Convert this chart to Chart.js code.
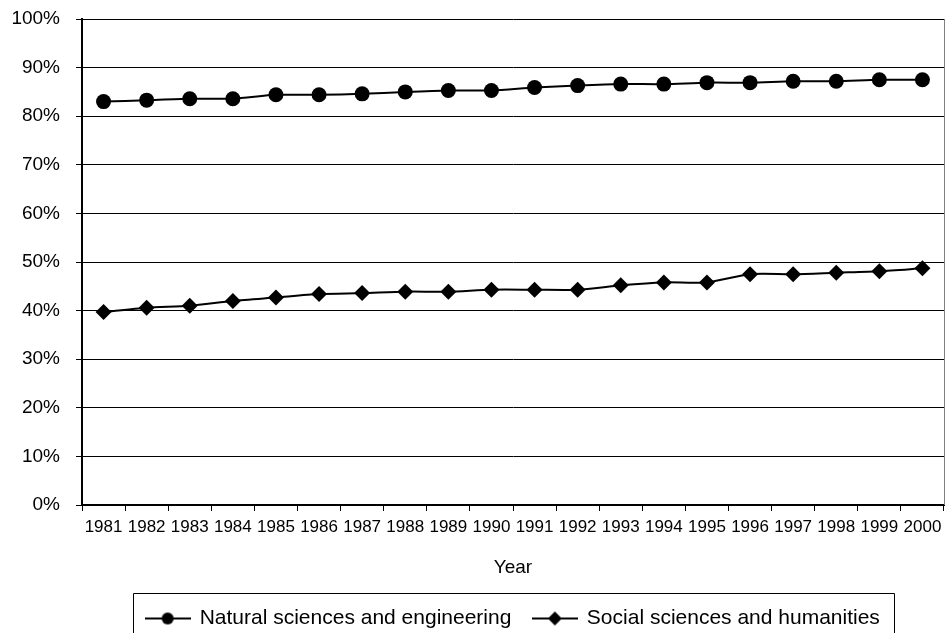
<!DOCTYPE html>
<html>
<head>
<meta charset="utf-8">
<script src="https://cdn.jsdelivr.net/npm/chart.js@4"></script>
<style>
  html, body { margin: 0; padding: 0; background: #fff; overflow: hidden; }
  #wrap { width: 946px; height: 633px; }
  canvas { display: block; }
</style>
</head>
<body>
<div id="wrap"><canvas id="chart" width="946" height="633"></canvas></div>
<script>
const years = ['1981','1982','1983','1984','1985','1986','1987','1988','1989','1990',
               '1991','1992','1993','1994','1995','1996','1997','1998','1999','2000'];
const naturalSci = [83.0, 83.3, 83.6, 83.6, 84.4, 84.4, 84.6, 85.0, 85.3, 85.3,
                    85.9, 86.3, 86.6, 86.6, 86.9, 86.9, 87.2, 87.2, 87.5, 87.5];
const socialSci = [39.7, 40.6, 41.0, 42.0, 42.7, 43.4, 43.6, 43.9, 43.9, 44.3,
                   44.3, 44.3, 45.2, 45.8, 45.8, 47.5, 47.5, 47.8, 48.1, 48.7];
const seriesNames = ['Natural sciences and engineering', 'Social sciences and humanities'];
const yTicks = [0, 10, 20, 30, 40, 50, 60, 70, 80, 90, 100];

const FONT = 'Liberation Sans, Arial, sans-serif';

// small line+marker swatch for the legend
function swatch(shape) {
    const c = document.createElement('canvas');
    c.width = 46; c.height = 16;
    const g = c.getContext('2d');
    g.strokeStyle = '#000';
    g.lineWidth = 2;
    g.beginPath(); g.moveTo(0, 8); g.lineTo(46, 8); g.stroke();
    g.fillStyle = '#000';
    g.beginPath();
    if (shape === 'circle') {
        g.arc(23, 8, 6, 0, Math.PI * 2);
    } else {
        g.moveTo(23, 1); g.lineTo(30, 8); g.lineTo(23, 15); g.lineTo(16, 8); g.closePath();
    }
    g.fill();
    return c;
}
const legendIcons = [swatch('circle'), swatch('diamond')];

const frame = {
    id: 'frame',
    beforeLayout(chart) {
        // legend.update() never calls afterFit, so wrap fit to pin the height
        const lg = chart.legend;
        if (lg && !lg._patched) {
            const orig = lg.fit;
            lg.fit = function () { orig.call(this); this.height = 47; };
            lg._patched = true;
        }
    },
    afterDraw(chart) {
        const ctx = chart.ctx;
        const a = chart.chartArea;
        ctx.save();
        // right border of the plot
        ctx.strokeStyle = '#808080';
        ctx.lineWidth = 1;
        ctx.beginPath();
        ctx.moveTo(a.right + 0.5, a.top);
        ctx.lineTo(a.right + 0.5, a.bottom);
        ctx.stroke();
        // box round the legend (runs off the bottom edge like the original)
        const hb = chart.legend.legendHitBoxes;
        if (hb && hb.length) {
            const first = hb[0], last = hb[hb.length - 1];
            const x0 = Math.round(first.left - 13) + 0.5;
            const x1 = Math.round(last.left + last.width + 14) + 0.5;
            const y0 = Math.round(first.top - 15) + 0.5;
            ctx.strokeStyle = '#000';
            ctx.beginPath();
            ctx.moveTo(x0, 640);
            ctx.lineTo(x0, y0);
            ctx.lineTo(x1, y0);
            ctx.lineTo(x1, 640);
            ctx.stroke();
        }
        ctx.restore();
    }
};

new Chart(document.getElementById('chart'), {
    type: 'line',
    data: {
        labels: years,
        datasets: [{
            label: seriesNames[0],
            data: naturalSci,
            borderColor: '#000',
            backgroundColor: '#000',
            borderWidth: 2,
            pointStyle: 'circle',
            pointRadius: 7.5,
            pointBorderWidth: 0,
            tension: 0.25
        }, {
            label: seriesNames[1],
            data: socialSci,
            borderColor: '#000',
            backgroundColor: '#000',
            borderWidth: 2,
            pointStyle: 'rectRot',
            pointRadius: 8,
            pointBorderWidth: 0,
            tension: 0.25
        }]
    },
    options: {
        responsive: false,
        animation: false,
        layout: { autoPadding: false, padding: { top: 19, right: 2, left: 0, bottom: 0 } },
        scales: {
            x: {
                offset: true,
                grid: { offset: true, drawOnChartArea: false, color: '#000', tickLength: 6 },
                border: { color: '#000', width: 2 },
                ticks: { color: '#000', font: { family: FONT, size: 17 }, padding: 6, maxRotation: 0, autoSkip: false },
                title: { display: true, text: 'Year', color: '#000', font: { family: FONT, size: 19 }, padding: { top: 4, bottom: 7 } },
                afterFit(s) { s.height = 81; s.paddingLeft = 0; s.paddingRight = 0; }
            },
            y: {
                min: 0,
                max: 100,
                afterBuildTicks(s) { s.ticks = yTicks.map(v => ({ value: v })); },
                grid: { color: '#000', lineWidth: 1, tickLength: 6 },
                border: { color: '#000', width: 2 },
                ticks: { color: '#000', font: { family: FONT, size: 19 }, padding: 16, callback: v => v + '%' },
                afterFit(s) { s.width = 82; s.paddingTop = 0; s.paddingBottom = 0; }
            }
        },
        plugins: {
            tooltip: { enabled: false },
            legend: {
                position: 'bottom',
                fullSize: false,
                labels: {
                    color: '#000',
                    font: { family: FONT, size: 21 },
                    usePointStyle: true,
                    pointStyleWidth: 43,
                    padding: 22,
                    generateLabels(chart) {
                        return chart.data.datasets.map((d, i) => ({
                            text: d.label,
                            pointStyle: legendIcons[i],
                            fontColor: '#000',
                            lineWidth: 0,
                            datasetIndex: i
                        }));
                    }
                }
            }
        }
    },
    plugins: [frame]
});
</script>
</body>
</html>
